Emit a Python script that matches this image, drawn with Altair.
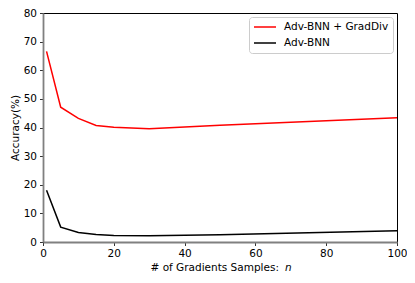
import altair as alt
import pandas as pd

n_values = [1, 5, 10, 15, 20, 30, 50, 100]
gradiv = [66.6, 47.1, 43.2, 40.7, 40.1, 39.6, 40.8, 43.4]
advbnn = [18.1, 5.2, 3.3, 2.6, 2.3, 2.2, 2.5, 3.9]
series_names = ["Adv-BNN + GradDiv", "Adv-BNN"]
series_colors = ["#ff0000", "#000000"]
x_ticks = [0, 20, 40, 60, 80, 100]
y_ticks = [0, 10, 20, 30, 40, 50, 60, 70, 80]

rows = []
for x, a, b in zip(n_values, gradiv, advbnn):
    rows.append({"n": x, "acc": a, "series": series_names[0]})
    rows.append({"n": x, "acc": b, "series": series_names[1]})
df = pd.DataFrame(rows)

FONT = "DejaVu Sans"
FS = 10.5

lines = alt.Chart(df).mark_line(strokeWidth=1.5).encode(
    x=alt.X("n:Q", scale=alt.Scale(domain=[0, 100], nice=False),
            axis=alt.Axis(values=x_ticks, title=None, grid=False,
                          labelFlush=False, labelOverlap=False,
                          domainColor="#808080", domainWidth=1.8,
                          tickColor="#333333", tickSize=3.5, labelPadding=3)),
    y=alt.Y("acc:Q", scale=alt.Scale(domain=[0, 80], nice=False),
            axis=alt.Axis(values=y_ticks, title="Accuracy(%)", grid=False,
                          labelFlush=False, labelOverlap=False,
                          domainColor="#808080", domainWidth=1.8,
                          tickColor="#333333", tickSize=3.5, labelPadding=3,
                          titlePadding=3)),
    color=alt.Color("series:N",
                    scale=alt.Scale(domain=series_names, range=series_colors),
                    sort=series_names,
                    legend=alt.Legend(title=None, orient="top-right",
                                      symbolType="stroke", symbolStrokeWidth=1.5,
                                      symbolSize=484, clipHeight=12,
                                      strokeColor="#cccccc", fillColor="white",
                                      cornerRadius=3, padding=4,
                                      offset=4, labelFontSize=FS, labelOffset=7,
                                      labelFont=FONT, labelColor="black",
                                      rowPadding=4)),
    detail="series:N",
)

title_main = alt.Chart(pd.DataFrame({"t": ["# of Gradients Samples:"]})).mark_text(
    align="right", baseline="alphabetic", fontSize=FS, font=FONT, color="black"
).encode(text="t:N", x=alt.value(236), y=alt.value(258))

title_n = alt.Chart(pd.DataFrame({"t": ["n"]})).mark_text(
    align="left", baseline="alphabetic", fontSize=FS, font=FONT, color="black",
    fontStyle="italic"
).encode(text="t:N", x=alt.value(242), y=alt.value(258))

chart = alt.layer(lines, title_main, title_n).properties(
    width=354, height=229,
    autosize=alt.AutoSizeParams(type="none"),
    padding={"left": 35, "top": 5, "right": 10, "bottom": 45},
).configure_view(stroke="black", strokeWidth=1).configure_axis(
    labelFont=FONT, labelFontSize=FS, labelColor="black",
    titleFont=FONT, titleFontSize=FS, titleColor="black", titleFontWeight="normal"
)

chart.save("out.html", embed_options={"renderer": "svg", "actions": False})
